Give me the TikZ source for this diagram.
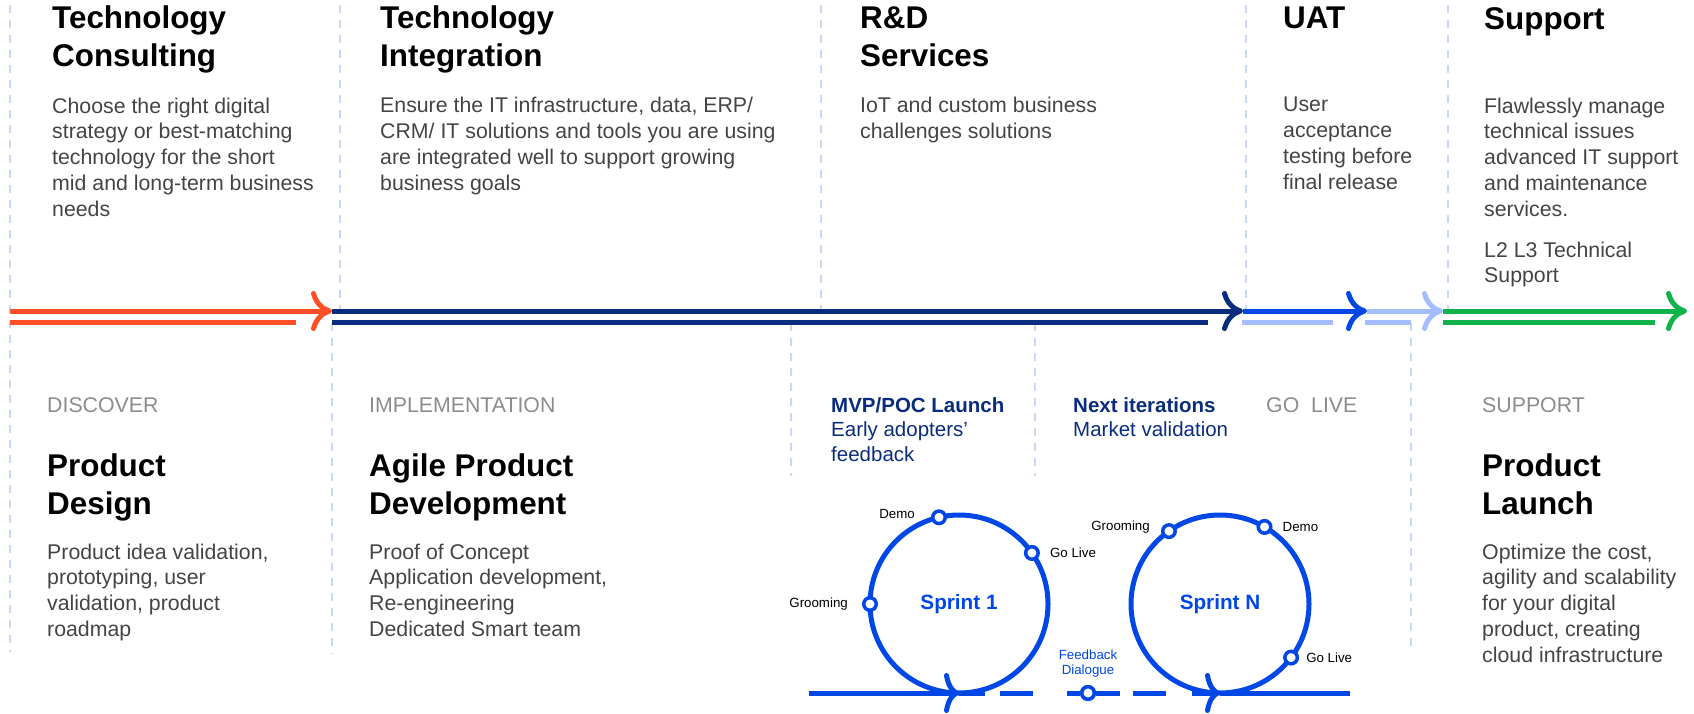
\documentclass[tikz,border=0pt]{standalone}
\usepackage{fontspec}
\setmainfont{Liberation Sans}
\usetikzlibrary{positioning,arrows.meta}

\definecolor{discover}{HTML}{FF4F27}
\definecolor{navy}{HTML}{0A2C7E}
\definecolor{sprintblue}{HTML}{0047E5}
\definecolor{paleblue}{HTML}{A3BEFF}
\definecolor{supportgreen}{HTML}{10B34A}
\definecolor{divider}{HTML}{C8D8FA}
\definecolor{bodygrey}{HTML}{444444}
\definecolor{phasegrey}{HTML}{8C8C8C}

% multi-line nodes sit on the baseline of their last line
\tikzset{
  head/.style={anchor=base west, align=left, inner sep=0pt, font=\fontsize{31.4}{38}\selectfont\bfseries},
  body/.style={anchor=base west, align=left, inner sep=0pt, text=bodygrey, font=\fontsize{21.3}{25.8}\selectfont},
  phase/.style={body, text=phasegrey},
  note/.style={anchor=base west, align=left, inner sep=0pt, text=navy, font=\fontsize{20.5}{24.8}\selectfont},
  sep/.style={draw=divider, line width=2pt, dash pattern=on 8pt off 7pt},
  track/.style={line width=5pt},
  bigtip/.style={-{Computer Modern Rightarrow[length=21pt,width=40pt]}},
  smalltip/.style={-{Computer Modern Rightarrow[length=15pt,width=40pt]}},
  sprint/.style={circle, draw=sprintblue, line width=5pt, minimum size=178pt, inner sep=0pt, outer sep=0pt,
    text=sprintblue, font=\fontsize{20.7}{24}\selectfont\bfseries},
  milestone/.style={circle, draw=sprintblue, fill=white, line width=3.5pt, minimum size=12.5pt, inner sep=0pt},
  mlabel/.style={inner sep=0pt, font=\fontsize{13.3}{15}\selectfont},
}

\begin{document}
\begin{tikzpicture}[x=1pt,y=-1pt]
\useasboundingbox (0,0) rectangle (1694,714);

% column separators
\draw[sep] (10,5) -- (10,652);
\draw[sep] (340,5) -- (340,311);
\draw[sep] (821,5) -- (821,311);
\draw[sep] (1246,5) -- (1246,311);
\draw[sep] (1448,5) -- (1448,311);
\draw[sep] (332,323) -- (332,654);
\draw[sep] (791,323) -- (791,476);
\draw[sep] (1035,323) -- (1035,476);
\draw[sep] (1411,323) -- (1411,648);

% the timeline
\coordinate (t0) at (10,311);
\coordinate (t1) at (332,311);
\coordinate (t2) at (1243,311);
\coordinate (t3) at (1367,311);
\coordinate (t4) at (1443,311);
\coordinate (t5) at (1687,311);
\coordinate (b0) at (10,322.5);
\coordinate (b1) at (296,322.5);
\coordinate (b2) at (332,322.5);
\coordinate (b3) at (1208,322.5);
\coordinate (b4) at (1242,322.5);
\coordinate (b5) at (1333,322.5);
\coordinate (b6) at (1365,322.5);
\coordinate (b7) at (1411,322.5);
\coordinate (b8) at (1443,322.5);
\coordinate (b9) at (1655,322.5);

\draw[track,discover] (b0) -- (b1);
\draw[track,navy] (b2) -- (b3);
\draw[track,paleblue] (b4) -- (b5);
\draw[track,paleblue] (b6) -- (b7);
\draw[track,supportgreen] (b8) -- (b9);
\draw[track,bigtip,discover] (t0) -- (t1);
\draw[track,bigtip,navy] (t1) -- (t2);
\draw[track,bigtip,sprintblue] (t2) -- (t3);
\draw[track,bigtip,paleblue] (t3) -- (t4);
\draw[track,bigtip,supportgreen] (t4) -- (t5);

% services
\node[head] (consult) at (52,67) {Technology\\Consulting};
\node[body] (consulttxt) at (52,216.2) {Choose the right digital\\strategy or best-matching\\technology for the short\\mid and long-term business\\needs};
\node[head] (integr) at (380,67) {Technology\\Integration};
\node[body] (integrtxt) at (380,190.4) {Ensure the IT infrastructure, data, ERP/\\CRM/ IT solutions and tools you are using\\are integrated well to support growing\\business goals};
\node[head] (rnd) at (860,67) {R\&D\\Services};
\node[body] (rndtxt) at (860,138.8) {IoT and custom business\\challenges solutions};
\node[head] (uat) at (1283,29) {UAT};
\node[body] (uattxt) at (1283,189.4) {User\\acceptance\\testing before\\final release};
\node[head] (supp) at (1484,30) {Support};
\node[body] (supptxt) at (1484,216.2) {Flawlessly manage\\technical issues\\advanced IT support\\and maintenance\\services.};
\node[body] (l2l3) at (1484,282.8) {L2 L3 Technical\\Support};

% phases
\node[phase] (discoverlbl) at (47,412) {DISCOVER};
\node[head] (design) at (47,514) {Product\\Design};
\node[body] (designtxt) at (47,636.4) {Product idea validation,\\prototyping, user\\validation, product\\roadmap};
\node[phase] (impl) at (369,412) {IMPLEMENTATION};
\node[head] (agile) at (369,514) {Agile Product\\Development};
\node[body] (agiletxt) at (369,636.4) {Proof of Concept\\Application development,\\Re-engineering\\Dedicated Smart team};
\node[note] (mvp) at (831,461.6) {\textbf{MVP/POC Launch}\\Early adopters'\\feedback};
\node[note] (next) at (1073,436.8) {\textbf{Next iterations}\\Market validation};
\node[phase] (golive) at (1266,412) {GO\ \ LIVE};
\node[phase] (supportlbl) at (1482,412) {SUPPORT};
\node[head] (launch) at (1482,514) {Product\\Launch};
\node[body] (launchtxt) at (1482,662.2) {Optimize the cost,\\agility and scalability\\for your digital\\product, creating\\cloud infrastructure};

% sprints
\node[sprint] (sp1) at (959,604) {Sprint 1};
\node[sprint] (spN) at (1220,604) {Sprint N};
\coordinate (flowin) at (809,693);
\coordinate (solid1) at (985,693);
\coordinate (solidN) at (1192,693);
\coordinate (flowout) at (1350,693);
\node[milestone] (fb) at (1088,693) {};
\draw[track,sprintblue,smalltip] (flowin) -- (sp1.south);
\draw[track,sprintblue] (sp1.south) -- (solid1);
\draw[track,sprintblue,dash pattern=on 33pt off 34pt,dash phase=52pt] (solid1) -- (fb);
\draw[track,sprintblue,dash pattern=on 24pt off 13pt on 33pt off 34pt] (fb) -- (solidN);
\draw[track,sprintblue,smalltip] (solidN) -- (spN.south);
\draw[track,sprintblue] (spN.south) -- (flowout);
\node[milestone] (fb) at (1088,693) {};
\node[mlabel, text=sprintblue, align=center, above=8pt of fb] (fblbl) {Feedback\\Dialogue};

\node[milestone] (groom1) at (sp1.180) {};
\node[milestone] (demo1) at (sp1.103) {};
\node[milestone] (live1) at (sp1.35) {};
\node[milestone] (groomN) at (spN.125) {};
\node[milestone] (demoN) at (spN.60) {};
\node[milestone] (liveN) at (spN.-37) {};
\node[mlabel, left=14pt of groom1] (groom1lbl) {Grooming};
\node[mlabel, left=16pt of demo1, yshift=3pt] (demo1lbl) {Demo};
\node[mlabel, right=10pt of live1] (live1lbl) {Go Live};
\node[mlabel, left=11pt of groomN, yshift=4pt] (groomNlbl) {Grooming};
\node[mlabel, right=10pt of demoN] (demoNlbl) {Demo};
\node[mlabel, right=7pt of liveN] (liveNlbl) {Go Live};
\end{tikzpicture}
\end{document}
